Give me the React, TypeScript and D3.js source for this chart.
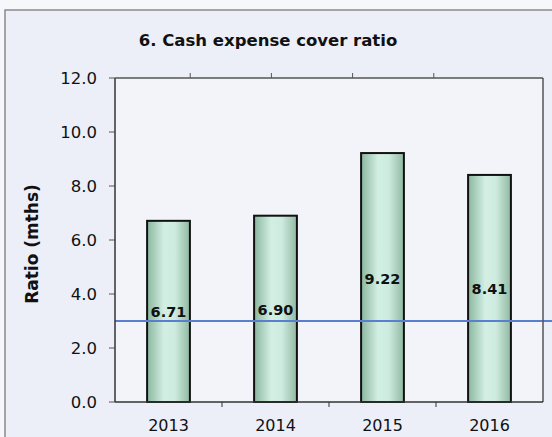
import React from 'react';
import * as d3 from 'd3';

const years = ['2013', '2014', '2015', '2016'];
const ratios = [6.71, 6.9, 9.22, 8.41];
const benchmark = 3.0;
const yTicks = [0, 2, 4, 6, 8, 10, 12];
const topTickCount = 5;

const W = 552;
const H = 437;
const margin = { left: 115, right: 9, top: 78, bottom: 35 };

const App: React.FC = () => {
  const x = d3
    .scaleBand<string>()
    .domain(years)
    .range([margin.left, W - margin.right])
    .paddingInner(0.6)
    .paddingOuter(0.3);
  const y = d3.scaleLinear().domain([0, 12]).range([H - margin.bottom, margin.top]);
  const band = x.step();
  const x0 = margin.left;
  const x1 = W - margin.right;
  const font = 'Verdana, "DejaVu Sans", sans-serif';

  // the upper edge has ticks of its own (secondary category axis)
  const topX = d3.scaleLinear().domain([0, topTickCount]).range([x0 - 6, x1 - 28]);

  return (
    <svg
      width={W}
      height={H}
      style={{ position: 'absolute', left: 0, top: 0 }}
      fontFamily={font}
    >
      <defs>
        <linearGradient id="bar-fill" x1="0%" y1="0%" x2="100%" y2="0%">
          <stop offset="0%" stopColor="#8ab79e" />
          <stop offset="40%" stopColor="#d3efe4" />
          <stop offset="65%" stopColor="#cdebdf" />
          <stop offset="100%" stopColor="#90b9a1" />
        </linearGradient>
      </defs>
      <rect x={0} y={0} width={W} height={H} fill="#f6f7fb" />
      <rect x={5} y={10} width={W} height={H} fill="#eceff8" stroke="#8a8a8a" strokeWidth={1.5} />
      <rect x={x0} y={margin.top} width={x1 - x0} height={y(0) - margin.top} fill="#f3f4fa" />

      <text x={268} y={46} textAnchor="middle" fontSize={16.5} fontWeight="bold" fill="#111">
        6. Cash expense cover ratio
      </text>
      <text
        transform={`translate(38,${(y(0) + y(12)) / 2 + 4}) rotate(-90)`}
        textAnchor="middle"
        fontSize={17}
        fontWeight="bold"
        fill="#111"
      >
        Ratio (mths)
      </text>

      {yTicks.map((t) => (
        <g key={t}>
          <line x1={x0 - 6} x2={x0} y1={y(t)} y2={y(t)} stroke="#555" />
          <text x={x0 - 18} y={y(t) + 6} textAnchor="end" fontSize={16.5} fill="#111">
            {t.toFixed(1)}
          </text>
        </g>
      ))}

      {d3.range(1, topTickCount).map((i) => (
        <line key={i} x1={topX(i)} x2={topX(i)} y1={margin.top - 5} y2={margin.top} stroke="#555" />
      ))}

      {ratios.map((v, i) => (
        <rect
          key={years[i]}
          x={x(years[i])}
          y={y(v)}
          width={x.bandwidth()}
          height={y(0) - y(v)}
          fill="url(#bar-fill)"
          stroke="#111"
          strokeWidth={2}
        />
      ))}

      <line x1={x0} x2={W} y1={y(benchmark)} y2={y(benchmark)} stroke="#5b7fd0" strokeWidth={2} />

      {ratios.map((v, i) => (
        <text
          key={years[i]}
          x={(x(years[i]) as number) + x.bandwidth() / 2}
          y={y(v / 2) + 6}
          textAnchor="middle"
          fontSize={14.5}
          fontWeight="bold"
          fill="#111"
        >
          {v.toFixed(2)}
        </text>
      ))}

      <line x1={x0} x2={x0} y1={margin.top} y2={y(0)} stroke="#333" strokeWidth={1.5} />
      <line x1={x0} x2={x1} y1={margin.top} y2={margin.top} stroke="#555" strokeWidth={1.5} />
      <line x1={x1} x2={x1} y1={margin.top} y2={y(0)} stroke="#555" strokeWidth={1.5} />
      <line x1={x0} x2={x1} y1={y(0)} y2={y(0)} stroke="#333" strokeWidth={1.5} />
      {d3.range(1, years.length).map((i) => (
        <line
          key={i}
          x1={x0 + band * i}
          x2={x0 + band * i}
          y1={y(0)}
          y2={y(0) + 5}
          stroke="#333"
        />
      ))}
      {years.map((yr) => (
        <text
          key={yr}
          x={(x(yr) as number) + x.bandwidth() / 2}
          y={y(0) + 29}
          textAnchor="middle"
          fontSize={16}
          fill="#111"
        >
          {yr}
        </text>
      ))}
    </svg>
  );
};

export default App;
